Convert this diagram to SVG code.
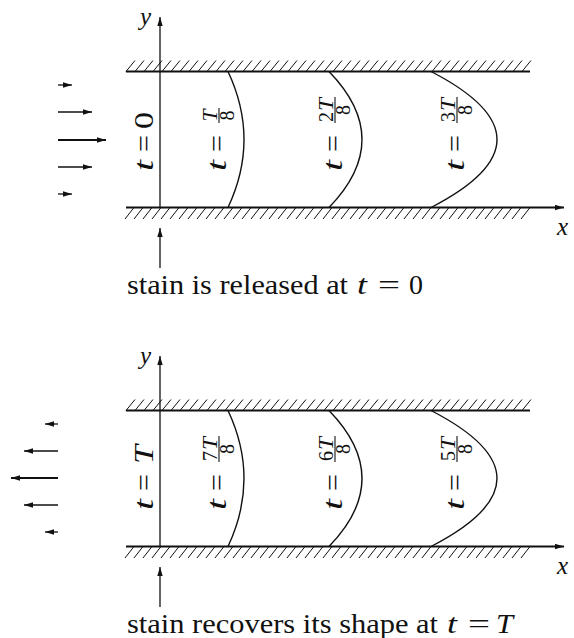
<svg xmlns="http://www.w3.org/2000/svg" xmlns:xlink="http://www.w3.org/1999/xlink" width="574" height="638" viewBox="0 0 574 638" font-family="Liberation Serif, DejaVu Serif, serif">
<style>
.ln{stroke:#111;fill:none;stroke-width:1.3}
.wall{stroke:#111;fill:none;stroke-width:1.8}
.hatch{stroke:#111;fill:none;stroke-width:1}
.curve{stroke:#111;fill:none;stroke-width:1.4}
.bar{stroke:#111;stroke-width:1.1}
text{fill:#111}
.mi{font-style:italic;font-size:27px}
.mr{font-size:27px}
.fi{font-style:italic;font-size:21px}
.fr{font-size:21px}
.cap{font-size:27px}
.capi{font-style:italic;font-size:27px}
.ax{font-style:italic;font-size:25px}
</style>
<defs>
<marker id="ah" viewBox="0 0 10 6" refX="10" refY="3" markerWidth="9" markerHeight="6" markerUnits="userSpaceOnUse" orient="auto"><path d="M0,0 L10,3 L0,6 z" fill="#111"/></marker>
<g id="channel">
<path class="hatch" d="M126 71.5l9-11M135 71.5l9-11M144 71.5l9-11M153 71.5l9-11M162 71.5l9-11M171 71.5l9-11M180 71.5l9-11M189 71.5l9-11M198 71.5l9-11M207 71.5l9-11M216 71.5l9-11M225 71.5l9-11M234 71.5l9-11M243 71.5l9-11M252 71.5l9-11M261 71.5l9-11M270 71.5l9-11M279 71.5l9-11M288 71.5l9-11M297 71.5l9-11M306 71.5l9-11M315 71.5l9-11M324 71.5l9-11M333 71.5l9-11M342 71.5l9-11M351 71.5l9-11M360 71.5l9-11M369 71.5l9-11M378 71.5l9-11M387 71.5l9-11M396 71.5l9-11M405 71.5l9-11M414 71.5l9-11M423 71.5l9-11M432 71.5l9-11M441 71.5l9-11M450 71.5l9-11M459 71.5l9-11M468 71.5l9-11M477 71.5l9-11M486 71.5l9-11M495 71.5l9-11M504 71.5l9-11M513 71.5l9-11M522 71.5l9-11"/>
<path class="hatch" d="M125 219l9-11.5M134 219l9-11.5M143 219l9-11.5M152 219l9-11.5M161 219l9-11.5M170 219l9-11.5M179 219l9-11.5M188 219l9-11.5M197 219l9-11.5M206 219l9-11.5M215 219l9-11.5M224 219l9-11.5M233 219l9-11.5M242 219l9-11.5M251 219l9-11.5M260 219l9-11.5M269 219l9-11.5M278 219l9-11.5M287 219l9-11.5M296 219l9-11.5M305 219l9-11.5M314 219l9-11.5M323 219l9-11.5M332 219l9-11.5M341 219l9-11.5M350 219l9-11.5M359 219l9-11.5M368 219l9-11.5M377 219l9-11.5M386 219l9-11.5M395 219l9-11.5M404 219l9-11.5M413 219l9-11.5M422 219l9-11.5M431 219l9-11.5M440 219l9-11.5M449 219l9-11.5M458 219l9-11.5M467 219l9-11.5M476 219l9-11.5M485 219l9-11.5M494 219l9-11.5M503 219l9-11.5M512 219l9-11.5M521 219l9-11.5"/>
<path class="wall" d="M126 71.5H530"/>
<path class="wall" d="M126 207.5H564" marker-end="url(#ah)"/>
<path class="ln" d="M160 207.5V17" marker-end="url(#ah)"/>
<path class="ln" d="M160 268V228" marker-end="url(#ah)"/>
<path class="curve" d="M228 71.5Q260 139.5 228 207.5"/>
<path class="curve" d="M329 71.5Q395 139.5 329 207.5"/>
<path class="curve" d="M431 71.5Q563 139.5 431 207.5"/>
</g>
</defs>

<g id="panel-top">
<use xlink:href="#channel" href="#channel"/>
<text class="ax" x="140" y="25">y</text>
<text class="ax" x="557" y="235">x</text>
</g>

<g id="panel-bottom">
<use xlink:href="#channel" href="#channel" y="339"/>
<text class="ax" x="140" y="364">y</text>
<text class="ax" x="557" y="574">x</text>
</g>

<g id="connectors">
<g id="flow-in">
<path class="ln" d="M58 85H72" marker-end="url(#ah)"/>
<path class="ln" d="M58 112H92" marker-end="url(#ah)"/>
<path class="ln" style="stroke-width:1.8" d="M58 140H106" marker-end="url(#ah)"/>
<path class="ln" d="M58 167H92" marker-end="url(#ah)"/>
<path class="ln" d="M58 194H72" marker-end="url(#ah)"/>
</g>
<g id="flow-out">
<path class="ln" d="M58 424H45" marker-end="url(#ah)"/>
<path class="ln" d="M58 451H24" marker-end="url(#ah)"/>
<path class="ln" style="stroke-width:1.8" d="M58 478H11" marker-end="url(#ah)"/>
<path class="ln" d="M58 505H24" marker-end="url(#ah)"/>
<path class="ln" d="M58 532H45" marker-end="url(#ah)"/>
</g>
</g>

<g id="label-t0" transform="translate(153,172) rotate(-90)">
<text class="mi" x="1" y="0" textLength="11" lengthAdjust="spacingAndGlyphs">t</text>
<text class="mr" x="20" y="0" textLength="17" lengthAdjust="spacingAndGlyphs">=</text>
<text class="mr" x="43" y="0" textLength="17" lengthAdjust="spacingAndGlyphs">0</text>
</g>
<g id="label-t1" transform="translate(226,172) rotate(-90)">
<text class="mi" x="1" y="0" textLength="11" lengthAdjust="spacingAndGlyphs">t</text>
<text class="mr" x="20" y="0" textLength="17" lengthAdjust="spacingAndGlyphs">=</text>
<line class="bar" x1="49" y1="-7" x2="64" y2="-7"/>
<text class="fi" x="50.5" y="-9" textLength="12" lengthAdjust="spacingAndGlyphs">T</text>
<text class="fr" x="51.5" y="8" textLength="10" lengthAdjust="spacingAndGlyphs">8</text>
</g>
<g id="label-t2" transform="translate(342,172) rotate(-90)">
<text class="mi" x="1" y="0" textLength="11" lengthAdjust="spacingAndGlyphs">t</text>
<text class="mr" x="20" y="0" textLength="17" lengthAdjust="spacingAndGlyphs">=</text>
<line class="bar" x1="49" y1="-7" x2="75" y2="-7"/>
<text class="fr" x="50" y="-9" textLength="10" lengthAdjust="spacingAndGlyphs">2</text>
<text class="fi" x="61" y="-9" textLength="13" lengthAdjust="spacingAndGlyphs">T</text>
<text class="fr" x="57" y="8" textLength="10" lengthAdjust="spacingAndGlyphs">8</text>
</g>
<g id="label-t3" transform="translate(464,172) rotate(-90)">
<text class="mi" x="1" y="0" textLength="11" lengthAdjust="spacingAndGlyphs">t</text>
<text class="mr" x="20" y="0" textLength="17" lengthAdjust="spacingAndGlyphs">=</text>
<line class="bar" x1="49" y1="-7" x2="75" y2="-7"/>
<text class="fr" x="50" y="-9" textLength="10" lengthAdjust="spacingAndGlyphs">3</text>
<text class="fi" x="61" y="-9" textLength="13" lengthAdjust="spacingAndGlyphs">T</text>
<text class="fr" x="57" y="8" textLength="10" lengthAdjust="spacingAndGlyphs">8</text>
</g>

<g id="label-tT" transform="translate(153,511) rotate(-90)">
<text class="mi" x="1" y="0" textLength="11" lengthAdjust="spacingAndGlyphs">t</text>
<text class="mr" x="20" y="0" textLength="17" lengthAdjust="spacingAndGlyphs">=</text>
<text class="mi" x="47" y="0" textLength="19" lengthAdjust="spacingAndGlyphs">T</text>
</g>
<g id="label-t7" transform="translate(226,511) rotate(-90)">
<text class="mi" x="1" y="0" textLength="11" lengthAdjust="spacingAndGlyphs">t</text>
<text class="mr" x="20" y="0" textLength="17" lengthAdjust="spacingAndGlyphs">=</text>
<line class="bar" x1="49" y1="-7" x2="75" y2="-7"/>
<text class="fr" x="50" y="-9" textLength="10" lengthAdjust="spacingAndGlyphs">7</text>
<text class="fi" x="61" y="-9" textLength="13" lengthAdjust="spacingAndGlyphs">T</text>
<text class="fr" x="57" y="8" textLength="10" lengthAdjust="spacingAndGlyphs">8</text>
</g>
<g id="label-t6" transform="translate(342,511) rotate(-90)">
<text class="mi" x="1" y="0" textLength="11" lengthAdjust="spacingAndGlyphs">t</text>
<text class="mr" x="20" y="0" textLength="17" lengthAdjust="spacingAndGlyphs">=</text>
<line class="bar" x1="49" y1="-7" x2="75" y2="-7"/>
<text class="fr" x="50" y="-9" textLength="10" lengthAdjust="spacingAndGlyphs">6</text>
<text class="fi" x="61" y="-9" textLength="13" lengthAdjust="spacingAndGlyphs">T</text>
<text class="fr" x="57" y="8" textLength="10" lengthAdjust="spacingAndGlyphs">8</text>
</g>
<g id="label-t5" transform="translate(464,511) rotate(-90)">
<text class="mi" x="1" y="0" textLength="11" lengthAdjust="spacingAndGlyphs">t</text>
<text class="mr" x="20" y="0" textLength="17" lengthAdjust="spacingAndGlyphs">=</text>
<line class="bar" x1="49" y1="-7" x2="75" y2="-7"/>
<text class="fr" x="50" y="-9" textLength="10" lengthAdjust="spacingAndGlyphs">5</text>
<text class="fi" x="61" y="-9" textLength="13" lengthAdjust="spacingAndGlyphs">T</text>
<text class="fr" x="57" y="8" textLength="10" lengthAdjust="spacingAndGlyphs">8</text>
</g>

<g id="caption-top">
<text class="cap" x="127" y="294" textLength="221" lengthAdjust="spacingAndGlyphs">stain is released at</text>
<text class="capi" x="357" y="294" textLength="10" lengthAdjust="spacingAndGlyphs">t</text>
<text class="cap" x="378" y="294" textLength="22" lengthAdjust="spacingAndGlyphs">=</text>
<text class="cap" x="409" y="294" textLength="14" lengthAdjust="spacingAndGlyphs">0</text>
</g>
<g id="caption-bottom">
<text class="cap" x="127" y="633" textLength="311" lengthAdjust="spacingAndGlyphs">stain recovers its shape at</text>
<text class="capi" x="447" y="633" textLength="10" lengthAdjust="spacingAndGlyphs">t</text>
<text class="cap" x="468" y="633" textLength="22" lengthAdjust="spacingAndGlyphs">=</text>
<text class="capi" x="496" y="633" textLength="17" lengthAdjust="spacingAndGlyphs">T</text>
</g>
</svg>
